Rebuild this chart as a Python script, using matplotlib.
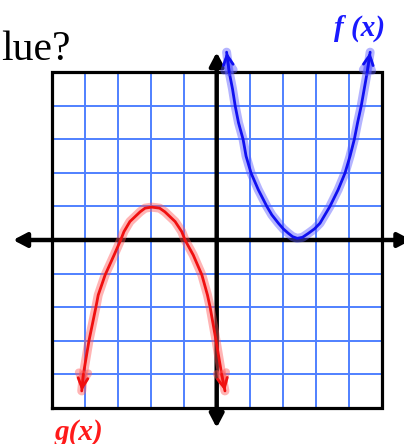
""" Graphe de f(x) et g(x) sur un quadrillage """

import matplotlib
matplotlib.use("Agg")
import matplotlib.pyplot as plt


f_x = [0.30, 0.38, 0.48, 0.56, 0.66, 0.80, 0.89, 1.04, 1.26, 1.52, 1.67, 1.87, 2.02,
       2.17, 2.30, 2.44, 2.60, 2.78, 2.96, 3.13, 3.28, 3.43, 3.68, 3.89, 4.04,
       4.17, 4.27, 4.38, 4.47, 4.56, 4.65]
f_y = [5.6, 5.0, 4.5, 4.0, 3.5, 3.0, 2.5, 2.0, 1.5, 1.0, 0.75, 0.5, 0.33,
       0.2, 0.1, 0.05, 0.08, 0.2, 0.33, 0.5, 0.75, 1.0, 1.5, 2.0, 2.5,
       3.0, 3.5, 4.0, 4.5, 5.0, 5.6]

g_x = [-4.09, -4.04, -3.87, -3.66, -3.59, -3.38, -3.11, -2.91, -2.81, -2.63,
       -2.32, -2.17, -1.97, -1.73, -1.57, -1.26, -1.06, -0.96, -0.71, -0.45,
       -0.28, -0.20, -0.02, 0.15, 0.25]
g_y = [-4.5, -4.0, -3.0, -2.0, -1.64, -1.04, -0.45, 0.0, 0.25, 0.55,
       0.84, 0.95, 0.98, 0.95, 0.84, 0.55, 0.25, 0.0, -0.45, -1.04,
       -1.64, -2.0, -3.0, -4.0, -4.5]

ticks = [-4, -3, -2, -1, 0, 1, 2, 3, 4]
borne = 5

W, H = 404, 444
fig = plt.figure(figsize=(W / 100, H / 100), dpi=100)
ax = fig.add_axes([0, 0, 1, 1])
ax.set_xlim(-216.7 / 33.0, (W - 216.7) / 33.0)
ax.set_ylim(-(H - 240) / 33.54, 240 / 33.54)
ax.axis("off")

# quadrillage
bleu_grille = "#4f80ff"
for t in ticks:
    ax.plot([t, t], [-borne, borne], color=bleu_grille, lw=1.4, zorder=1)
    ax.plot([-borne, borne], [t, t], color=bleu_grille, lw=1.4, zorder=1)
ax.plot([-borne, borne, borne, -borne, -borne], [-borne, -borne, borne, borne, -borne],
        color="black", lw=2.3, zorder=2, solid_joinstyle="miter")

# axes avec fleches
fleche = dict(arrowstyle="<|-|>,head_length=0.8,head_width=0.42", lw=3.2,
              color="black", shrinkA=0, shrinkB=0)
ax.annotate("", xy=(-6.17, 0), xytext=(5.9, 0), arrowprops=fleche, zorder=3)
ax.annotate("", xy=(0, 5.6), xytext=(0, -5.6), arrowprops=fleche, zorder=3)


def courbe(xs, ys, coul, halo):
    ax.plot(xs, ys, color=halo, lw=6.5, alpha=0.45, zorder=4,
            solid_capstyle="round", solid_joinstyle="round")
    ax.plot(xs, ys, color=coul, lw=2.0, zorder=5,
            solid_capstyle="round", solid_joinstyle="round")
    for a, b in [(1, 0), (-2, -1)]:
        for c, lw, al in [(halo, 5.5, 0.45), (coul, 2.0, 1)]:
            ax.annotate("", xy=(xs[b], ys[b]), xytext=(xs[a], ys[a]),
                        arrowprops=dict(arrowstyle="->,head_length=0.7,head_width=0.35",
                                        lw=lw, color=c, alpha=al,
                                        shrinkA=0, shrinkB=0),
                        zorder=5)


courbe(f_x, f_y, "#1010f0", "#5a5aff")
courbe(g_x, g_y, "#f01010", "#ff5a5a")

fig.text(1 / W, 1 - 60 / H, "lue?", fontsize=30, family="Liberation Serif",
         color="black", ha="left", va="baseline")
fig.text(360 / W, 1 - 28 / H, "f (x)", fontsize=21, family="Liberation Serif",
         weight="bold", style="italic", color="#1a1aff", ha="center", va="center")
fig.text(79 / W, 1 - 432 / H, "g(x)", fontsize=21, family="Liberation Serif",
         weight="bold", style="italic", color="#ff1a1a", ha="center", va="center")

fig.savefig("out.png", dpi=100)
